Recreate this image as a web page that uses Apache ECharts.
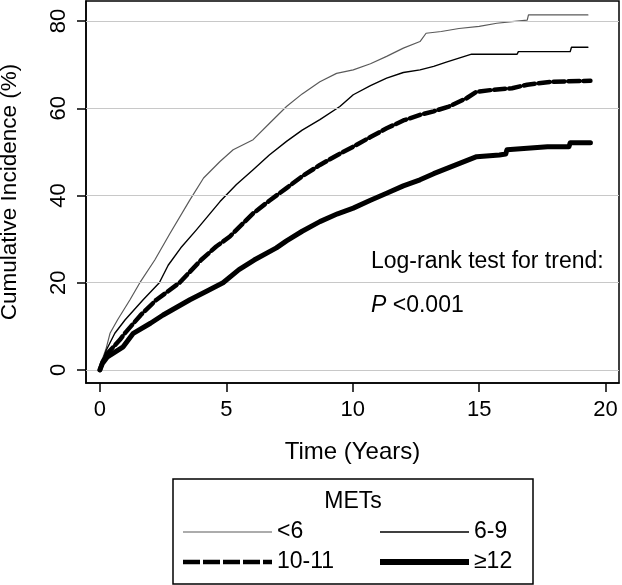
<!DOCTYPE html>
<html>
<head>
<meta charset="utf-8">
<script src="https://cdn.jsdelivr.net/npm/echarts@6/dist/echarts.min.js"></script>
<style>html,body{margin:0;padding:0;background:#fff}#c{width:622px;height:585px}</style>
</head>
<body>
<div id="c"></div>
<script>
// ---- Data ----
const seriesNames = ['<6', '6-9', '10-11', '\u226512'];
const xTicks = [0, 5, 10, 15, 20];
const yTicks = [0, 20, 40, 60, 80];
const mets_lt6 = [[0,0],[0.1,2.5],[0.25,5],[0.4,8.4],[0.7,11.5],[1.19,16.1],[1.58,20],[2.17,25.2],[2.77,31.3],[3.56,39],[4.1,44],[4.75,47.8],[5.27,50.5],[6.06,52.8],[6.7,56.5],[7.38,60.4],[8.0,63.3],[8.7,66.1],[9.36,68],[10.02,68.8],[10.7,70.2],[11.34,71.9],[12.0,73.8],[12.66,75.3],[12.9,77.2],[13.5,77.6],[14.2,78.3],[15,78.8],[15.7,79.5],[16.2,79.8],[16.9,80.2],[16.95,81.4],[19.3,81.4]];
const mets_6_9 = [[0,0],[0.1,2],[0.25,4.5],[0.59,8.4],[1.0,11.5],[1.71,16.1],[2.35,20],[2.7,24],[3.2,28],[3.8,32],[4.75,38.6],[5.4,42.5],[6.06,45.9],[6.7,49.3],[7.38,52.4],[8.0,55],[8.7,57.4],[9.49,60.4],[10.02,63.1],[10.7,65.2],[11.34,66.9],[12.0,68.2],[12.66,68.8],[13.2,69.6],[13.7,70.6],[14.2,71.5],[14.7,72.4],[16.5,72.4],[16.55,73.0],[18.6,73.0],[18.65,74.0],[19.3,74.0]];
const mets_10_11 = [[0,0],[0.1,1.8],[0.3,3.8],[0.79,6.9],[1.0,8.5],[1.6,12.5],[2.24,16.1],[3.15,20],[4.0,25.2],[4.6,28.3],[5.14,30.6],[6.06,35.9],[6.7,38.8],[7.38,41.7],[8.0,44.4],[8.7,47.0],[9.4,49.3],[10.02,51.2],[10.7,53.4],[11.34,55.4],[12.0,57.2],[12.66,58.5],[13.2,59.3],[13.8,60.4],[14.5,62.3],[14.9,63.8],[15.5,64.2],[16.3,64.6],[16.9,65.4],[17.9,66.1],[19.4,66.3]];
const mets_ge12 = [[0,0],[0.1,1.5],[0.3,3],[0.92,5.3],[1.32,8.4],[2.0,10.7],[2.5,12.6],[3.56,16.1],[4.2,18],[4.87,20],[5.5,23],[6.1,25.2],[6.98,28],[7.38,29.6],[8.0,31.8],[8.7,34.0],[9.4,35.8],[10.02,37.1],[10.7,38.9],[11.34,40.5],[12.0,42.2],[12.66,43.6],[13.2,45.0],[13.8,46.4],[14.5,48.0],[14.9,48.9],[15.8,49.3],[16.05,49.5],[16.1,50.5],[17.7,51.2],[18.55,51.2],[18.6,52.1],[19.4,52.1]];
const seriesData = [mets_lt6, mets_6_9, mets_10_11, mets_ge12];
const legendTitle = 'METs';
const annotation1 = 'Log-rank test for trend:';
const annotation2 = '{i|P} <0.001';

// ---- Styles ----
const FONT = '"Liberation Sans", Arial, sans-serif';
const styles = [
  {color:'#5a5a5a', width:1.2, type:'solid'},
  {color:'#000', width:1.4, type:'solid'},
  {color:'#000', width:4.5, type:[11,4]},
  {color:'#000', width:5, type:'solid'}
];
// legend icons: horizontal bars centred in a 89 x 24 box (zero-area subpaths fix the box)
const BOX = 'M0,0L0,0M89,24L89,24';
const legendIcons = [
  'path://' + BOX + 'M0,11.4H89V12.6H0Z',
  'path://' + BOX + 'M0,11.3H89V12.7H0Z',
  'path://' + BOX + 'M0,9.7H17V14.3H0ZM20,9.7H37V14.3H20ZM40,9.7H57V14.3H40ZM60,9.7H77V14.3H60ZM80,9.7H89V14.3H80Z',
  'path://' + BOX + 'M0,9H89V15H0Z'
];

const chart = echarts.init(document.getElementById('c'), null, {renderer:'canvas'});

const series = seriesNames.map((n, i) => ({
  name: n, type: 'line', data: seriesData[i], symbol: 'none', smooth: false,
  z: 3 + i, animation: false,
  lineStyle: {color: styles[i].color, width: styles[i].width, type: styles[i].type, cap: 'round', join: 'round'},
  itemStyle: {color: styles[i].color}
}));
series.unshift({
  name: 'grid', type: 'line', data: [], z: 1, silent: true, animation: false,
  markLine: {silent: true, symbol: 'none', animation: false, label: {show: false},
    lineStyle: {color: '#c8c8c8', width: 1.2, type: 'solid'},
    data: yTicks.map(v => ({yAxis: v}))}
});

const legendPos = [
  {left: 183, top: 520, gap: 12},
  {left: 380, top: 520, gap: 8},
  {left: 183, top: 550, gap: 12},
  {left: 380, top: 550, gap: 8}
];

chart.setOption({
  backgroundColor: '#fff',
  animation: false,
  grid: {left: 86, right: 3, top: 1, bottom: 202, containLabel: false, outerBoundsMode: 'none',
    show: true, borderColor: '#000', borderWidth: 1.5, backgroundColor: 'transparent'},
  xAxis: {
    type: 'value', min: -0.55, max: 20.53,
    name: 'Time (Years)', nameLocation: 'middle', nameGap: 57,
    nameTextStyle: {fontFamily: FONT, fontSize: 24, color: '#000'},
    axisLine: {show: true, onZero: false, lineStyle: {color: '#000', width: 1.5}},
    axisTick: {show: true, inside: false, length: 9, customValues: xTicks, lineStyle: {color: '#000', width: 1.5}},
    axisLabel: {customValues: xTicks, fontFamily: FONT, fontSize: 22, color: '#000', margin: 16},
    splitLine: {show: false}
  },
  yAxis: {
    type: 'value', min: -3, max: 84.6,
    name: 'Cumulative Incidence (%)', nameLocation: 'middle', nameGap: 65,
    nameTextStyle: {fontFamily: FONT, fontSize: 22.5, color: '#000'},
    axisLine: {show: true, onZero: false, lineStyle: {color: '#000', width: 1.5}},
    axisTick: {show: true, inside: false, length: 9, customValues: yTicks, lineStyle: {color: '#000', width: 1.5}},
    axisLabel: {customValues: yTicks, rotate: 90, fontFamily: FONT, fontSize: 22, color: '#000', margin: 16},
    splitLine: {show: false}
  },
  legend: legendPos.map((p, i) => ({
    data: [{name: seriesNames[i], icon: legendIcons[i], itemStyle: {color: styles[i].color, borderWidth: 0}}],
    left: p.left, top: p.top, padding: 0, orient: 'horizontal',
    itemWidth: 89, itemHeight: 24, itemGap: 0, itemTextGap: p.gap, selectedMode: false,
    textStyle: {fontFamily: FONT, fontSize: 23, color: '#000', lineHeight: 23}
  })),
  graphic: [
    {type: 'rect', silent: true, shape: {x: 173, y: 479, width: 360, height: 105}, style: {fill: 'none', stroke: '#000', lineWidth: 1.5}},
    {type: 'text', silent: true, style: {text: legendTitle, x: 353, y: 502, align: 'center', verticalAlign: 'middle', font: '23px ' + FONT, fill: '#000'}},
    {type: 'text', silent: true, style: {text: annotation1, x: 371, y: 262, verticalAlign: 'middle', font: '23px ' + FONT, fill: '#000'}},
    {type: 'text', silent: true, style: {text: annotation2, x: 371, y: 306, verticalAlign: 'middle', font: '23px ' + FONT, fill: '#000',
      rich: {i: {fontStyle: 'italic', fontFamily: FONT, fontSize: 23, fill: '#000'}}}}
  ],
  series: series
});
</script>
</body>
</html>
